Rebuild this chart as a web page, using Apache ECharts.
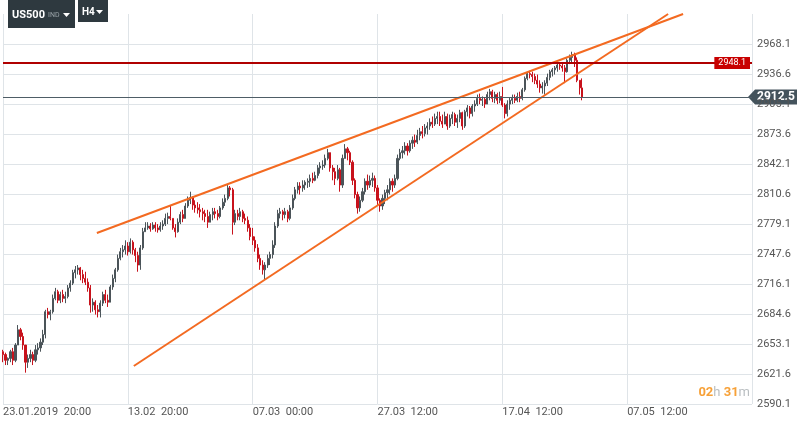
<!DOCTYPE html>
<html><head><meta charset="utf-8">
<script src="https://cdn.jsdelivr.net/npm/echarts@6/dist/echarts.min.js"></script>
<style>html,body{margin:0;padding:0;background:#fff}#c{width:806px;height:425px}</style>
</head><body><div id="c"></div>
<script>
// ---- data (US500, H4) ----
const opens = [2645,2642,2636,2638,2645,2636,2652,2668,2661,2652,2634,2638,2642,2636,2647,2649,2655,2663,2687,2684,
2687,2701,2708,2699,2705,2701,2703,2712,2717,2728,2731,2733,2726,2722,2718,2712,2694,2697,2689,2687,
2696,2705,2699,2697,2713,2722,2731,2743,2750,2752,2756,2750,2760,2752,2746,2736,2754,2771,2775,2777,
2774,2778,2775,2773,2777,2779,2785,2787,2785,2775,2771,2781,2789,2785,2798,2804,2807,2799,2796,2794,
2792,2790,2787,2781,2789,2792,2790,2787,2796,2802,2806,2817,2815,2781,2790,2787,2792,2785,2783,2775,
2766,2762,2754,2743,2736,2731,2736,2743,2747,2757,2777,2790,2792,2789,2792,2785,2796,2806,2815,2819,
2817,2820,2823,2824,2827,2825,2830,2838,2840,2841,2848,2854,2838,2834,2827,2836,2820,2848,2858,2854,
2844,2825,2810,2796,2804,2813,2824,2820,2825,2827,2817,2804,2798,2806,2812,2815,2824,2820,2827,2848,
2854,2856,2861,2856,2864,2867,2865,2872,2876,2874,2880,2882,2886,2884,2890,2892,2887,2884,2892,2882,
2890,2894,2886,2890,2896,2882,2897,2901,2895,2903,2905,2911,2909,2910,2905,2915,2918,2911,2915,2909,
2913,2904,2895,2905,2909,2911,2909,2913,2911,2920,2932,2937,2936,2934,2930,2926,2922,2924,2927,2933,
2939,2941,2943,2946,2945,2943,2939,2951,2954,2957,2951,2930,2922];
const closes = [2642,2636,2638,2645,2636,2652,2668,2661,2652,2634,2638,2642,2636,2647,2649,2655,2663,2687,2684,2687,
2701,2708,2699,2705,2701,2703,2712,2717,2728,2731,2733,2726,2722,2718,2712,2694,2697,2689,2687,2696,
2705,2699,2697,2713,2722,2731,2743,2750,2752,2756,2750,2760,2752,2746,2736,2754,2771,2775,2777,2774,
2778,2775,2773,2777,2779,2785,2787,2785,2775,2771,2781,2789,2785,2798,2804,2807,2799,2796,2794,2792,
2790,2787,2781,2789,2792,2790,2787,2796,2802,2806,2817,2815,2781,2790,2787,2792,2785,2783,2775,2766,
2762,2754,2743,2736,2731,2736,2743,2747,2757,2777,2790,2792,2789,2792,2785,2796,2806,2815,2819,2817,
2820,2823,2824,2827,2825,2830,2838,2840,2841,2848,2854,2838,2834,2827,2836,2820,2848,2858,2854,2844,
2825,2810,2796,2804,2813,2824,2820,2825,2827,2817,2804,2798,2806,2812,2815,2824,2820,2827,2848,2854,
2856,2861,2856,2864,2867,2865,2872,2876,2874,2880,2882,2886,2884,2890,2892,2887,2884,2892,2882,2890,
2894,2886,2890,2896,2882,2897,2901,2895,2903,2905,2911,2909,2910,2905,2915,2918,2911,2915,2909,2913,
2904,2895,2905,2909,2911,2909,2913,2911,2920,2932,2937,2936,2934,2930,2926,2922,2924,2927,2933,2939,
2941,2943,2946,2945,2943,2939,2951,2954,2957,2951,2930,2922,2912.5];
const highs = [2647,2644,2639,2647,2649,2654,2673,2670,2665,2652,2642,2647,2645,2652,2654,2659,2668,2689,2691,2689,
2705,2712,2710,2708,2710,2708,2715,2720,2731,2735,2736,2734,2731,2729,2722,2715,2701,2699,2694,2699,
2708,2710,2705,2715,2726,2733,2747,2754,2757,2762,2760,2764,2762,2754,2750,2757,2775,2781,2781,2780,
2781,2781,2779,2781,2783,2790,2791,2799,2785,2779,2785,2792,2794,2801,2808,2813,2808,2804,2802,2800,
2796,2794,2794,2792,2796,2796,2794,2798,2806,2810,2820,2819,2817,2794,2794,2796,2794,2790,2787,2779,
2775,2766,2758,2747,2741,2739,2747,2750,2762,2781,2794,2796,2794,2796,2794,2799,2810,2818,2823,2823,
2825,2825,2827,2831,2833,2834,2841,2844,2846,2852,2858,2854,2841,2838,2841,2838,2852,2863,2860,2856,
2846,2827,2813,2808,2817,2827,2831,2830,2833,2830,2820,2806,2810,2815,2820,2827,2827,2831,2852,2858,
2861,2865,2864,2867,2871,2873,2878,2880,2882,2884,2886,2890,2892,2895,2897,2897,2894,2897,2895,2894,
2897,2896,2894,2899,2897,2899,2904,2903,2905,2909,2915,2916,2913,2912,2918,2921,2920,2918,2917,2918,
2923,2906,2909,2912,2915,2915,2917,2918,2922,2934,2939,2940,2939,2937,2936,2930,2928,2930,2937,2941,
2943,2945,2949,2949,2948,2946,2953,2957,2960,2959,2954,2930,2932];
const lows = [2634,2631,2631,2634,2631,2634,2652,2657,2647,2623,2628,2634,2631,2634,2642,2645,2652,2659,2680,2678,
2685,2699,2696,2696,2697,2696,2701,2708,2715,2722,2726,2720,2717,2715,2708,2686,2687,2684,2681,2681,
2693,2696,2692,2697,2710,2718,2729,2741,2744,2747,2746,2748,2747,2739,2729,2731,2752,2771,2773,2771,
2773,2771,2770,2771,2773,2777,2779,2783,2773,2765,2770,2779,2781,2785,2796,2800,2794,2791,2790,2786,
2783,2781,2775,2781,2783,2785,2783,2785,2794,2798,2804,2808,2768,2778,2783,2783,2781,2779,2771,2762,
2757,2750,2739,2731,2726,2721,2733,2736,2743,2754,2775,2785,2783,2785,2781,2783,2794,2804,2811,2810,
2813,2815,2817,2818,2822,2824,2827,2832,2836,2838,2846,2834,2825,2820,2825,2813,2817,2848,2846,2841,
2820,2806,2790,2792,2802,2810,2815,2817,2818,2813,2799,2792,2794,2800,2804,2810,2813,2817,2825,2846,
2848,2852,2851,2854,2858,2860,2863,2867,2869,2871,2873,2878,2880,2882,2884,2882,2880,2884,2878,2880,
2884,2882,2880,2886,2878,2880,2892,2890,2892,2897,2903,2905,2903,2901,2905,2909,2907,2906,2905,2906,
2902,2890,2892,2899,2905,2906,2907,2907,2909,2918,2930,2932,2928,2926,2922,2917,2916,2915,2924,2930,
2934,2936,2939,2941,2939,2927,2938,2947,2949,2944,2928,2915,2909];
const xTickLabels = ['23.01.2019  20:00','13.02  20:00','07.03  00:00','27.03  12:00','17.04  12:00','07.05  12:00'];
const barsPerLabel = 50;     // bars between time labels
const totalSlots = 301;      // bar slots across the visible window
const yBase = 2590.1;        // lowest price gridline
const yStep = 31.5;          // price gridline step
const resistanceLevel = 2948.1;
const lastPrice = 2912.5;
const upperTrend = [[37.6, 2769.7], [272.4, 2999.6]];   // [bar index, price]
const lowerTrend = [[52.4, 2630.0], [266.4, 2999.6]];
const timerParts = ['02', 'h', '31', 'm'];

// ---- build ----
const categories = Array.from({length: totalSlots}, (_, i) =>
  (i % barsPerLabel === 0 && xTickLabels[i / barsPerLabel]) ? xTickLabels[i / barsPerLabel] : '');
const candles = closes.map((c, i) => [opens[i] - yBase, c - yBase, lows[i] - yBase, highs[i] - yBase]);
const off = arr => arr.map(p => [p[0], p[1] - yBase]);

const GRID = {left: 2, right: 54, top: 14, bottom: 21};
const plotH = 425 - GRID.top - GRID.bottom;
const yMax = plotH / 30 * yStep;

const chart = echarts.init(document.getElementById('c'), null, {renderer: 'canvas'});
const FONT = 'Roboto, "Noto Sans", sans-serif';
chart.setOption({
  animation: false,
  backgroundColor: '#ffffff',
  grid: GRID,
  xAxis: [{
    type: 'category', data: categories, boundaryGap: false,
    axisLine: {show: false}, axisTick: {show: false},
    axisLabel: {interval: (i) => i % barsPerLabel === 0, align: 'left', color: '#555', fontSize: 11,
      fontFamily: FONT, margin: 3, showMaxLabel: false},
    splitLine: {show: true, interval: (i) => i % barsPerLabel === 0, lineStyle: {color: '#dfe4e8', width: 1}}
  }, {
    type: 'value', min: 0, max: totalSlots - 1, show: false
  }],
  yAxis: {
    type: 'value', position: 'right', min: 0, max: yMax, interval: yStep,
    axisLine: {show: false}, axisTick: {show: false},
    axisLabel: {formatter: v => (v + yBase).toFixed(1), color: '#555', fontSize: 11, fontFamily: FONT,
      margin: 5, showMaxLabel: false},
    splitLine: {show: true, showMaxLine: false, lineStyle: {color: '#dfe4e8', width: 1}}
  },
  series: [{
    type: 'candlestick', data: candles, barWidth: 1.6, clip: true,
    itemStyle: {color: '#4b5459', color0: '#c8121c', borderColor: '#4b5459', borderColor0: '#c8121c', borderWidth: 1},
    markLine: {
      silent: true, symbol: 'none', animation: false,
      data: [
        {yAxis: resistanceLevel - yBase, lineStyle: {color: '#b00000', width: 2, type: 'solid'},
          label: {show: true, position: 'insideEnd', distance: 2, formatter: resistanceLevel.toFixed(1),
            color: '#fff', fontSize: 9, fontFamily: FONT, backgroundColor: '#c80000', padding: [2, 4, 1, 4]}},
        {yAxis: lastPrice - yBase, lineStyle: {color: '#4e5d66', width: 1, type: 'solid'}, label: {show: false}}
      ]
    }
  }, {
    type: 'line', xAxisIndex: 1, data: off(upperTrend), symbol: 'none', clip: false,
    lineStyle: {color: '#f36a21', width: 2}, silent: true
  }, {
    type: 'line', xAxisIndex: 1, data: off(lowerTrend), symbol: 'none', clip: false,
    lineStyle: {color: '#f36a21', width: 2}, silent: true
  }]
});

const yLast = chart.convertToPixel({yAxisIndex: 0}, lastPrice - yBase);
chart.setOption({
  graphic: [
    {type: 'rect', shape: {x: 8, y: 0, width: 67, height: 28}, style: {fill: '#2e393f'}},
    {type: 'text', x: 12, y: 15, style: {text: 'US500', fill: '#fff', font: 'bold 11px ' + FONT, verticalAlign: 'middle'}},
    {type: 'text', x: 48, y: 15, style: {text: 'IND', fill: '#9aa4a9', font: '7px ' + FONT, verticalAlign: 'middle'}},
    {type: 'polygon', shape: {points: [[63, 13], [70, 13], [66.5, 17]]}, style: {fill: '#fff'}},
    {type: 'rect', shape: {x: 78, y: 0, width: 30, height: 22}, style: {fill: '#2e393f'}},
    {type: 'text', x: 82, y: 12, style: {text: 'H4', fill: '#fff', font: 'bold 10px ' + FONT, verticalAlign: 'middle'}},
    {type: 'polygon', shape: {points: [[96, 10], [103, 10], [99.5, 14]]}, style: {fill: '#fff'}},
    {type: 'polygon', shape: {points: [[748, yLast], [755, yLast - 7.5], [797, yLast - 7.5], [797, yLast + 7.5], [755, yLast + 7.5]]},
      style: {fill: '#44535c'}},
    {type: 'text', x: 757, y: yLast, style: {text: lastPrice.toFixed(1), fill: '#fff', font: 'bold 12px ' + FONT, verticalAlign: 'middle'}},
    {type: 'text', right: 56, bottom: 26, style: {
      text: '{n|' + timerParts[0] + '}{u|' + timerParts[1] + ' }{n|' + timerParts[2] + '}{u|' + timerParts[3] + '}',
      rich: {n: {fill: '#f7a138', font: 'bold 13px ' + FONT}, u: {fill: '#b9bec1', font: '13px ' + FONT}}
    }}
  ]
});
</script>
</body></html>
